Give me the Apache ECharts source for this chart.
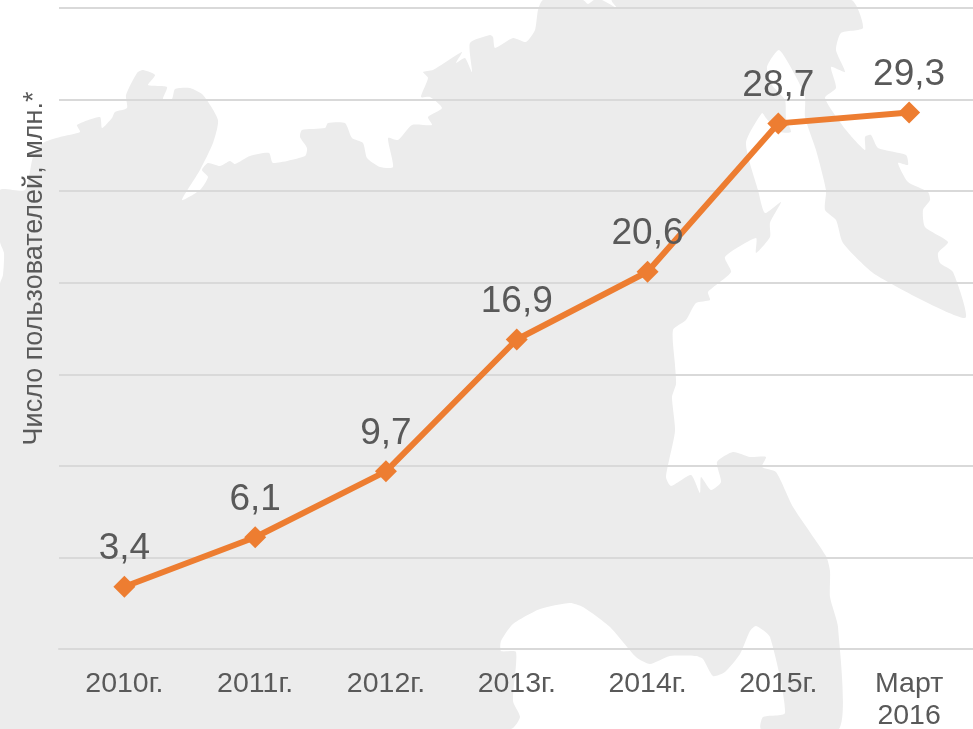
<!DOCTYPE html>
<html>
<head>
<meta charset="utf-8">
<style>
  html, body { margin: 0; padding: 0; background: #fff; }
  #chart { width: 973px; height: 729px; }
</style>
<script src="https://cdn.jsdelivr.net/npm/echarts@6/dist/echarts.min.js"></script>
</head>
<body>
<div id="chart"></div>
<script>
const categories = ["2010г.", "2011г.", "2012г.", "2013г.", "2014г.", "2015г.", "Март\n2016"];
const users = [3.4, 6.1, 9.7, 16.9, 20.6, 28.7, 29.3];
const axisTitle = "Число пользователей, млн.*";

// background map silhouette, page pixels (decoration only, not data)
const mapOutline = [
  [0,190],[25,190],[33,157],[43,143],[60,137],[80,132],[77,125],[100,117],[102,128],[112,118],[115,112],
  [127,108],[126,95],[137,73],[143,70],[155,75],[148,85],[167,87],[163,99],[172,99],[175,89],[190,88],
  [203,95],[218,120],[213,143],[200,170],[182,200],[200,190],[208,177],[202,170],[208,163],[220,166],
  [230,161],[235,164],[250,156],[269,153],[273,163],[305,156],[307,148],[300,137],[302,130],[325,128],
  [328,123],[345,123],[352,138],[363,143],[367,158],[380,167],[393,167],[388,138],[398,140],[412,125],
  [432,125],[428,117],[442,108],[430,97],[421,97],[428,78],[423,72],[433,70],[462,52],[456,63],[465,58],
  [472,72],[470,43],[490,35],[493,37],[495,48],[513,38],[526,42],[535,30],[538,10],[543,0],
  [583,0],[588,4],[594,0],[602,0],[618,9],[620,11],[612,0],[851,0],[863,28],[841,33],[836,50],[845,72],
  [831,67],[836,88],[825,98],[846,130],[865,150],[865,137],[871,135],[878,148],[906,155],[908,165],
  [898,163],[908,182],[928,192],[930,200],[923,210],[925,227],[948,242],[938,253],[940,263],[953,272],
  [965,318],[876,275],[843,243],[836,220],[825,210],[826,190],[816,150],[805,117],[805,97],[795,75],
  [779,50],[767,67],[772,85],[785,100],[786,118],[791,132],[780,132],[772,125],[766,118],[762,113],
  [746,143],[758,190],[765,213],[781,202],[770,223],[770,237],[756,253],[756,238],[725,257],[731,272],
  [708,292],[710,300],[696,303],[686,320],[673,330],[675,365],[676,384],[672,397],[675,431],[666,477],
  [671,486],[691,475],[700,493],[701,477],[711,490],[721,482],[717,462],[733,452],[750,457],[766,457],
  [762,467],[776,472],[793,507],[826,556],[830,571],[830,597],[838,627],[839,729],[761,729],[763,717],
  [785,713],[770,637],[756,626],[750,631],[740,654],[725,672],[713,676],[703,659],[696,656],[670,656],
  [650,664],[636,657],[610,627],[583,607],[570,603],[540,609],[513,624],[501,641],[501,651],[516,652],
  [513,701],[520,717],[511,729],[0,729],[0,284],[3,275],[4,253],[0,242]
];

const chart = echarts.init(document.getElementById("chart"), null, { renderer: "canvas" });

const textColor = "#595959";
const fontFamily = "'Liberation Sans', Arial, sans-serif";

chart.setOption({
  backgroundColor: "#ffffff",
  animation: false,
  graphic: [
    {
      type: "polygon",
      silent: true,
      z: -10,
      shape: { points: mapOutline, smooth: 0.2 },
      style: { fill: "#ececec" },
    },
  ],
  grid: { left: 59, top: 8, width: 915.5, height: 641, containLabel: false, outerBoundsMode: "none" },
  xAxis: {
    type: "category",
    data: categories,
    axisLine: { show: true, lineStyle: { color: "#d9d9d9", width: 2 } },
    axisTick: { show: false },
    splitLine: { show: false },
    axisLabel: {
      color: textColor,
      fontFamily,
      fontSize: 28.5,
      lineHeight: 32,
      margin: 19,
      interval: 0,
    },
  },
  yAxis: {
    type: "value",
    min: 0,
    max: 35,
    interval: 5,
    name: axisTitle,
    nameLocation: "middle",
    nameGap: 11,
    nameTextStyle: {
      color: textColor,
      fontFamily,
      fontSize: 27,
      padding: [0, 0, 0, 120],
    },
    axisLine: { show: false },
    axisTick: { show: false },
    axisLabel: { show: false },
    splitLine: { show: true, lineStyle: { color: "#d9d9d9", width: 2 } },
  },
  series: [
    {
      name: "Число пользователей",
      type: "line",
      data: users,
      symbol: "diamond",
      symbolSize: 22,
      lineStyle: { color: "#ed7d31", width: 6 },
      itemStyle: { color: "#ed7d31" },
      label: {
        show: true,
        position: "top",
        distance: 8,
        color: textColor,
        fontFamily,
        fontSize: 37,
        formatter: (p) => String(p.value).replace(".", ","),
      },
    },
  ],
});
</script>
</body>
</html>
